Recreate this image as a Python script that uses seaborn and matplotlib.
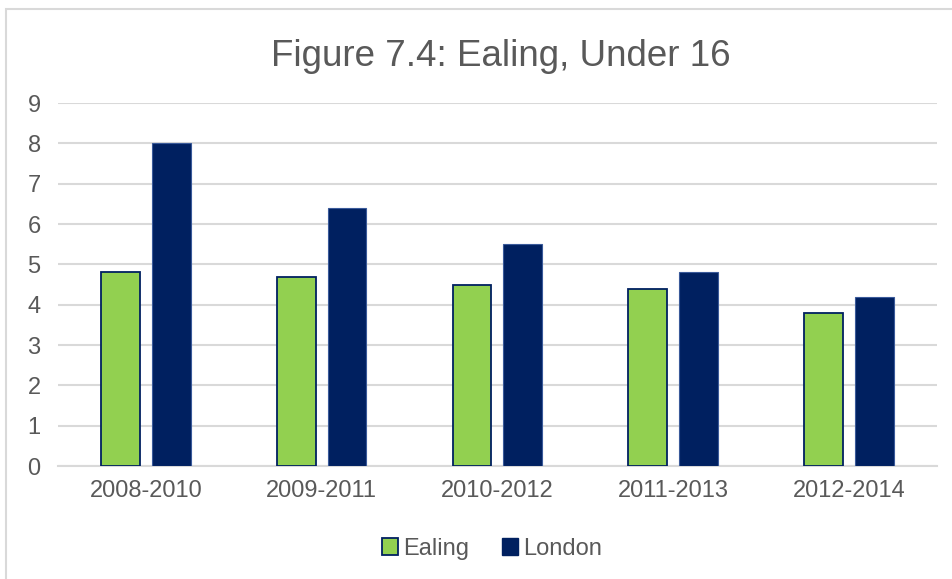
import pandas as pd
import seaborn as sns
import matplotlib.pyplot as plt
from matplotlib.patches import Rectangle, Patch

periods = ["2008-2010", "2009-2011", "2010-2012", "2011-2013", "2012-2014"]
ealing = [4.8, 4.7, 4.5, 4.4, 3.8]
london = [8.0, 6.4, 5.5, 4.8, 4.2]

df = pd.DataFrame({
    "period": periods * 2,
    "value": ealing + london,
    "area": ["Ealing"] * len(periods) + ["London"] * len(periods),
})

sns.set_theme(style="white")
plt.rcParams["font.family"] = ["Liberation Sans", "DejaVu Sans"]

text_col = "#595959"
grid_col = "#D9D9D9"
green = "#92D050"
navy = "#002060"

fig = plt.figure(figsize=(9.53, 5.79), dpi=100)
ax = fig.add_axes([0.0609, 0.195, 0.922, 0.627])

sns.barplot(data=df, x="period", y="value", hue="area", order=periods,
            palette={"Ealing": green, "London": navy}, saturation=1,
            width=0.58, gap=0.24, ax=ax, legend=False, zorder=3)

# green bars get a navy outline, navy bars a faint lighter rim
for bar in ax.patches:
    is_green = bar.get_facecolor()[1] > 0.5
    bar.set_edgecolor(navy if is_green else "#3a5a9a")
    bar.set_linewidth(1.3 if is_green else 0.8)

ax.set_ylim(0, 9)
ax.set_yticks(range(0, 10))
ax.set_xlim(-0.5, 4.5)
ax.yaxis.grid(True, color=grid_col, linewidth=1.5, zorder=0)
ax.set_axisbelow(True)
for s in ["top", "right", "left"]:
    ax.spines[s].set_visible(False)
ax.spines["bottom"].set_color(grid_col)
ax.spines["bottom"].set_linewidth(1.5)
ax.tick_params(axis="both", length=0, labelsize=17, labelcolor=text_col)
ax.tick_params(axis="y", pad=12.5)
ax.tick_params(axis="x", pad=10)
ax.set_xlabel("")
ax.set_ylabel("")

fig.text(0.525, 0.903, "Figure 7.4: Ealing, Under 16", ha="center", va="center",
         fontsize=26.5, color=text_col)

handles = [Patch(facecolor=green, edgecolor=navy, linewidth=1.3, label="Ealing"),
           Patch(facecolor=navy, edgecolor=navy, label="London")]
fig.legend(handles=handles, loc="center", bbox_to_anchor=(0.516, 0.052), ncol=2,
           frameon=False, fontsize=17, labelcolor=text_col, handlelength=0.7,
           handleheight=0.7, handletextpad=0.2, columnspacing=1.4)

fig.patches.append(Rectangle((6 / 953, -0.1), 1.2, 1 - 9 / 579 + 0.1,
                             transform=fig.transFigure, fill=False,
                             edgecolor=grid_col, linewidth=1.5))

fig.savefig("out.png", dpi=100)
